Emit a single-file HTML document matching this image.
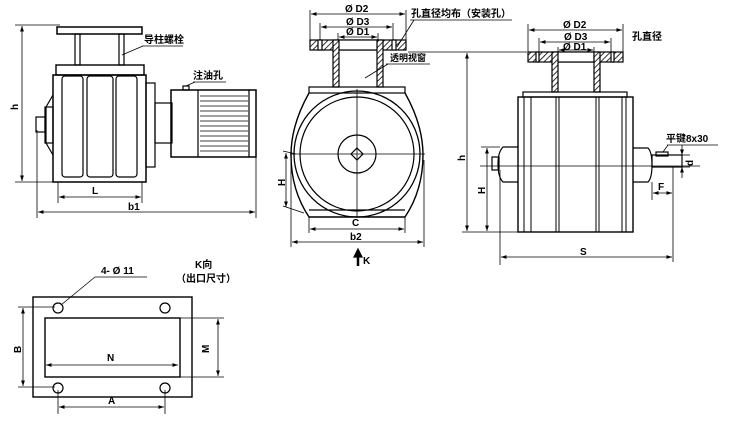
<!DOCTYPE html>
<html><head><meta charset="utf-8"><style>
html,body{margin:0;padding:0;background:#fff;}
svg{display:block}
text{font-family:"Liberation Sans","Noto Sans CJK SC",sans-serif;fill:#000;font-weight:bold}
</style></head><body>
<svg width="730" height="430" viewBox="0 0 730 430" xmlns="http://www.w3.org/2000/svg">
<defs>
<marker id="a" viewBox="0 0 10 10" refX="10" refY="5" markerWidth="7" markerHeight="7" orient="auto-start-reverse"><path d="M0,1.5 L10,5 L0,8.5z" fill="#000"/></marker>
<pattern id="h" width="4" height="4" patternUnits="userSpaceOnUse" patternTransform="rotate(45)"><rect width="4" height="4" fill="#fff"/><line x1="0" y1="0" x2="0" y2="4" stroke="#000" stroke-width="1.6"/></pattern>
</defs>
<g fill="none" stroke="#000" stroke-width="1.2">
<!-- LEFT VIEW -->
<line x1="15" y1="25" x2="60" y2="25" stroke-width="0.8"/>
<line x1="15" y1="182" x2="55" y2="182" stroke-width="0.8"/>
<line x1="22" y1="26" x2="22" y2="181" marker-start="url(#a)" marker-end="url(#a)" stroke-width="0.8"/>
<rect x="57" y="27" width="85" height="7" stroke-width="1.5"/>
<rect x="75" y="34" width="5" height="31"/><rect x="119" y="34" width="5" height="31"/>
<rect x="56" y="65" width="88" height="10" stroke-width="1.4"/>
<rect x="53" y="75" width="93" height="107" stroke-width="1.5"/>
<rect x="62" y="76" width="21" height="101" rx="3"/>
<rect x="87" y="76" width="26" height="101" rx="3"/>
<rect x="116" y="76" width="21" height="101" rx="3"/>
<path d="M53,95 L46,107 L46,143 L53,155"/>
<rect x="45" y="107" width="8" height="36"/>
<rect x="36" y="117" width="9" height="15"/>
<rect x="146" y="83" width="9" height="84"/>
<rect x="155" y="103" width="17" height="40"/>
<rect x="171" y="90" width="85" height="67" stroke-width="1.5"/>
<line x1="198" y1="90" x2="198" y2="157"/><line x1="249" y1="90" x2="249" y2="157"/>
<g stroke-width="0.8">
<line x1="200" y1="96" x2="248" y2="96"/><line x1="200" y1="101" x2="248" y2="101"/><line x1="200" y1="106" x2="248" y2="106"/><line x1="200" y1="111" x2="248" y2="111"/><line x1="200" y1="116" x2="248" y2="116"/><line x1="200" y1="121" x2="248" y2="121"/><line x1="200" y1="126" x2="248" y2="126"/><line x1="200" y1="131" x2="248" y2="131"/><line x1="200" y1="136" x2="248" y2="136"/><line x1="200" y1="141" x2="248" y2="141"/><line x1="200" y1="146" x2="248" y2="146"/><line x1="200" y1="151" x2="248" y2="151"/>
</g>
<rect x="183" y="86" width="6" height="4"/>
<line x1="186" y1="86" x2="195" y2="82" stroke-width="0.8"/><line x1="193" y1="82" x2="226" y2="82" stroke-width="0.8"/>
<line x1="122" y1="55" x2="143" y2="46" stroke-width="0.8"/><line x1="142" y1="46" x2="183" y2="46" stroke-width="0.8"/>
<line x1="58" y1="182" x2="58" y2="203" stroke-width="0.8"/><line x1="142" y1="182" x2="142" y2="203" stroke-width="0.8"/>
<line x1="59" y1="197" x2="141" y2="197" marker-start="url(#a)" marker-end="url(#a)" stroke-width="0.8"/>
<line x1="37" y1="130" x2="37" y2="218" stroke-width="0.8"/><line x1="256" y1="157" x2="256" y2="218" stroke-width="0.8"/>
<line x1="38" y1="212" x2="255" y2="212" marker-start="url(#a)" marker-end="url(#a)" stroke-width="0.8"/>

<!-- MIDDLE VIEW -->
<line x1="310" y1="10" x2="310" y2="40" stroke-width="0.8"/><line x1="406" y1="10" x2="406" y2="40" stroke-width="0.8"/>
<line x1="311" y1="14" x2="405" y2="14" marker-start="url(#a)" marker-end="url(#a)" stroke-width="0.8"/>
<line x1="320" y1="23" x2="320" y2="40" stroke-width="0.8"/><line x1="393" y1="23" x2="393" y2="40" stroke-width="0.8"/>
<line x1="321" y1="27" x2="392" y2="27" marker-start="url(#a)" marker-end="url(#a)" stroke-width="0.8"/>
<line x1="338" y1="33" x2="338" y2="40" stroke-width="0.8"/><line x1="378" y1="33" x2="378" y2="40" stroke-width="0.8"/>
<line x1="339" y1="37" x2="377" y2="37" marker-start="url(#a)" marker-end="url(#a)" stroke-width="0.8"/>
<rect x="310" y="40" width="96" height="10" fill="url(#h)"/>
<rect x="318" y="40" width="4" height="10" fill="#fff"/><rect x="392" y="40" width="4" height="10" fill="#fff"/>
<rect x="338" y="40" width="40" height="10" fill="#fff"/>
<rect x="333" y="40" width="6" height="47" fill="url(#h)"/><rect x="377" y="40" width="6" height="47" fill="url(#h)"/>
<rect x="309" y="87" width="96" height="6"/>
<path d="M309,93 Q291,125 291,155 Q291,190 309,217 L405,217 Q423,190 423,155 Q423,125 405,93" stroke-width="1.4"/>
<line x1="309" y1="210" x2="405" y2="210"/>
<circle cx="357" cy="154" r="63" stroke-width="1.3"/>
<circle cx="357" cy="154" r="57"/>
<circle cx="357" cy="154" r="19"/>
<path d="M357,148 L363,154 L357,160 L351,154z"/>
<line x1="290" y1="154" x2="425" y2="154" stroke-width="0.8"/>
<line x1="357" y1="89" x2="357" y2="217" stroke-width="0.8"/>
<line x1="283" y1="151" x2="296" y2="154" stroke-width="0.8"/><line x1="283" y1="206" x2="304" y2="213" stroke-width="0.8"/>
<line x1="286" y1="153" x2="286" y2="207" marker-start="url(#a)" marker-end="url(#a)" stroke-width="0.8"/>
<line x1="309" y1="217" x2="309" y2="233" stroke-width="0.8"/><line x1="405" y1="217" x2="405" y2="233" stroke-width="0.8"/>
<line x1="310" y1="229" x2="404" y2="229" marker-start="url(#a)" marker-end="url(#a)" stroke-width="0.8"/>
<line x1="291" y1="160" x2="291" y2="247" stroke-width="0.8"/><line x1="424" y1="160" x2="424" y2="247" stroke-width="0.8"/>
<line x1="292" y1="242" x2="423" y2="242" marker-start="url(#a)" marker-end="url(#a)" stroke-width="0.8"/>
<line x1="358" y1="256" x2="358" y2="266" stroke-width="2.5"/>
<path d="M354,257 L358,249 L362,257z" fill="#000"/>
<line x1="397" y1="47" x2="414" y2="20" stroke-width="0.8"/><line x1="410" y1="20" x2="512" y2="20" stroke-width="0.8"/>
<line x1="365" y1="78" x2="388" y2="64" stroke-width="0.8"/><line x1="386" y1="64" x2="430" y2="64" stroke-width="0.8"/>

<!-- RIGHT VIEW -->
<line x1="408" y1="52" x2="527" y2="52" stroke-width="0.8"/>
<line x1="462" y1="232" x2="518" y2="232" stroke-width="0.8"/>
<line x1="467" y1="53" x2="467" y2="231" marker-start="url(#a)" marker-end="url(#a)" stroke-width="0.8"/>
<line x1="528" y1="24" x2="528" y2="52" stroke-width="0.8"/><line x1="623" y1="24" x2="623" y2="52" stroke-width="0.8"/>
<line x1="529" y1="30" x2="622" y2="30" marker-start="url(#a)" marker-end="url(#a)" stroke-width="0.8"/>
<line x1="539" y1="38" x2="539" y2="52" stroke-width="0.8"/><line x1="611" y1="38" x2="611" y2="52" stroke-width="0.8"/>
<line x1="540" y1="42" x2="610" y2="42" marker-start="url(#a)" marker-end="url(#a)" stroke-width="0.8"/>
<line x1="558" y1="47" x2="558" y2="52" stroke-width="0.8"/><line x1="594" y1="47" x2="594" y2="52" stroke-width="0.8"/>
<line x1="559" y1="50" x2="593" y2="50" marker-start="url(#a)" marker-end="url(#a)" stroke-width="0.8"/>
<rect x="528" y="52" width="95" height="10" fill="url(#h)"/>
<rect x="536" y="52" width="3" height="10" fill="#fff"/><rect x="611" y="52" width="3" height="10" fill="#fff"/>
<rect x="557" y="52" width="37" height="10" fill="#fff"/>
<rect x="552" y="52" width="6" height="40" fill="url(#h)"/><rect x="594" y="52" width="6" height="40" fill="url(#h)"/>
<rect x="523" y="92" width="104" height="5"/>
<rect x="518" y="97" width="115" height="135" stroke-width="1.4"/>
<g stroke-width="1"><line x1="524" y1="97" x2="524" y2="232"/><line x1="531" y1="97" x2="531" y2="232"/><line x1="556" y1="97" x2="556" y2="232"/><line x1="559" y1="97" x2="559" y2="232"/><line x1="596" y1="97" x2="596" y2="232"/><line x1="599" y1="97" x2="599" y2="232"/><line x1="622" y1="97" x2="622" y2="232"/><line x1="626" y1="97" x2="626" y2="232"/></g>
<path d="M518,147 L503,147 Q498,152 498,164 Q498,177 503,182 L518,182"/>
<rect x="492" y="157" width="7" height="13"/>
<path d="M633,148 L648,148 Q652,152 652,165 Q652,178 648,182 L633,182"/>
<rect x="652" y="155" width="30" height="12"/>
<rect x="656" y="152" width="12" height="4"/>
<line x1="480" y1="166" x2="700" y2="166" stroke-width="0.8"/>
<line x1="481" y1="147" x2="500" y2="147" stroke-width="0.8"/>
<line x1="487" y1="148" x2="487" y2="231" marker-start="url(#a)" marker-end="url(#a)" stroke-width="0.8"/>
<line x1="663" y1="152" x2="668" y2="145" stroke-width="0.8"/><line x1="667" y1="145" x2="718" y2="145" stroke-width="0.8"/>
<line x1="682" y1="155" x2="690" y2="155" stroke-width="0.8"/><line x1="682" y1="167" x2="690" y2="167" stroke-width="0.8"/>
<line x1="682" y1="145" x2="682" y2="155" marker-end="url(#a)" stroke-width="0.8"/>
<line x1="682" y1="178" x2="682" y2="167" marker-end="url(#a)" stroke-width="0.8"/>
<line x1="652" y1="182" x2="652" y2="200" stroke-width="0.8"/><line x1="673" y1="167" x2="673" y2="262" stroke-width="0.8"/>
<line x1="653" y1="193" x2="672" y2="193" marker-start="url(#a)" marker-end="url(#a)" stroke-width="0.8"/>
<line x1="500" y1="170" x2="500" y2="265" stroke-width="0.8"/>
<line x1="501" y1="257" x2="672" y2="257" marker-start="url(#a)" marker-end="url(#a)" stroke-width="0.8"/>

<!-- BOTTOM VIEW -->
<rect x="33" y="297" width="159" height="100" stroke-width="1.4"/>
<rect x="45" y="318" width="135" height="59" stroke-width="1.4"/>
<circle cx="58" cy="308" r="5"/><circle cx="165" cy="308" r="5"/><circle cx="58" cy="388" r="5"/><circle cx="165" cy="388" r="5"/>
<line x1="18" y1="307" x2="55" y2="307" stroke-width="0.8"/><line x1="18" y1="387" x2="55" y2="387" stroke-width="0.8"/>
<line x1="23" y1="308" x2="23" y2="386" marker-start="url(#a)" marker-end="url(#a)" stroke-width="0.8"/>
<line x1="180" y1="318" x2="224" y2="318" stroke-width="0.8"/><line x1="180" y1="377" x2="224" y2="377" stroke-width="0.8"/>
<line x1="218" y1="319" x2="218" y2="376" marker-start="url(#a)" marker-end="url(#a)" stroke-width="0.8"/>
<line x1="46" y1="365" x2="178" y2="365" marker-start="url(#a)" marker-end="url(#a)" stroke-width="0.8"/>
<line x1="58" y1="390" x2="58" y2="414" stroke-width="0.8"/><line x1="165" y1="390" x2="165" y2="414" stroke-width="0.8"/>
<line x1="59" y1="407" x2="164" y2="407" marker-start="url(#a)" marker-end="url(#a)" stroke-width="0.8"/>
<line x1="61" y1="305" x2="95" y2="277" stroke-width="0.8"/><line x1="95" y1="277" x2="147" y2="277" stroke-width="0.8"/>
</g>

<!-- TEXT -->
<g font-size="10">
<text x="144" y="43" font-size="10">导柱螺栓</text>
<text x="193" y="79" font-size="10">注油孔</text>
<text x="10" y="108" transform="rotate(-90 15 105)">h</text>
<text x="92" y="194">L</text>
<text x="128" y="210">b1</text>
<text x="345" y="12">Ø D2</text>
<text x="346" y="25">Ø D3</text>
<text x="346" y="35">Ø D1</text>
<text x="411" y="17">孔直径均布（安装孔）</text>
<text x="390" y="61" font-size="9">透明视窗</text>
<text x="277" y="186" transform="rotate(-90 281 182)">H</text>
<text x="352" y="226">C</text>
<text x="350" y="240">b2</text>
<text x="363" y="264">K</text>
<text x="458" y="160" transform="rotate(-90 462 157)">h</text>
<text x="563" y="28">Ø D2</text>
<text x="564" y="40">Ø D3</text>
<text x="563" y="50">Ø D1</text>
<text x="632" y="40">孔直径</text>
<text x="478" y="193" transform="rotate(-90 482 190)">H</text>
<text x="666" y="142" font-size="10">平键8x30</text>
<text x="686" y="165" transform="rotate(-90 690 162)">d</text>
<text x="658" y="190">F</text>
<text x="580" y="255">S</text>
<text x="101" y="274">4- Ø 11</text>
<text x="195" y="268">K向</text>
<text x="176" y="282">（出口尺寸）</text>
<text x="14" y="352" transform="rotate(-90 18 349)">B</text>
<text x="107" y="361">N</text>
<text x="202" y="352" transform="rotate(-90 206 349)">M</text>
<text x="108" y="404">A</text>
</g>
</svg>
</body></html>
